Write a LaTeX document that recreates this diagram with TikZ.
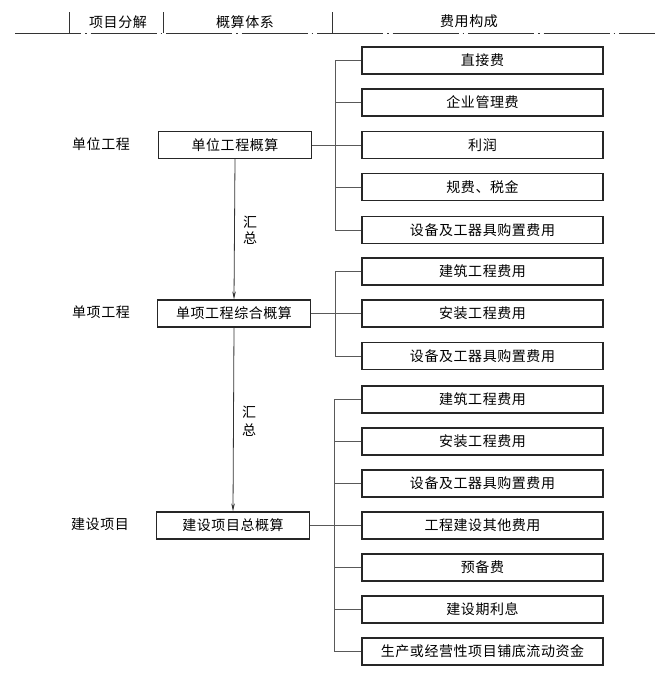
\documentclass[tikz,border=0pt]{standalone}
\usepackage{fontspec}
\newfontfamily\cjk[LetterSpace=4]{Noto Sans CJK SC}
\usetikzlibrary{arrows.meta}
\begin{document}
\begin{tikzpicture}[x=1pt,y=-1pt,
  txt/.style={font=\cjk\fontsize{14}{17}\selectfont, text=black, inner sep=0pt},
  costbox/.style={txt, draw=black!85, line width=1.1pt, minimum width=241pt, minimum height=27pt},
  sumbox/.style={txt, draw=black!85, line width=1.2pt, minimum width=153pt, minimum height=27pt},
  brk/.style={draw=black!65, line width=0.7pt},
  arr/.style={draw=black!80, line width=0.8pt, -{Stealth[length=8pt,width=3.5pt]}},
  hdr/.style={draw=black!80, line width=0.8pt}
]
\useasboundingbox (0,0) rectangle (655,683);
% header
\coordinate (hl) at (15,33);
\coordinate (hr) at (655,33);
\coordinate (v1t) at (69,12);  \coordinate (v1b) at (69,33);
\coordinate (v2t) at (163,12); \coordinate (v2b) at (163,33);
\coordinate (v3t) at (332,12); \coordinate (v3b) at (332,33);
\draw[hdr, dash pattern=on 66pt off 4pt on 1.5pt off 4pt] (hl) -- (hr);
\draw[hdr] (v1t) -- (v1b);
\draw[hdr] (v2t) -- (v2b);
\draw[hdr] (v3t) -- (v3b);
\node[txt] (h1) at (118,22) {项目分解};
\node[txt] (h2) at (245,22) {概算体系};
\node[txt] (h3) at (469,21) {费用构成};
% left labels
\node[txt] (l1) at (101,144) {单位工程};
\node[txt] (l2) at (101,312) {单项工程};
\node[txt] (l3) at (100,524) {建设项目};
% summary boxes
\node[sumbox] (s1) at (235,145) {单位工程概算};
\node[sumbox] (s2) at (234,313.5) {单项工程综合概算};
\node[sumbox] (s3) at (233,525.5) {建设项目总概算};
% group 1
\node[costbox] (a1) at (482.5,60.5) {直接费};
\node[costbox] (a2) at (482.5,102.5) {企业管理费};
\node[costbox] (a3) at (482.5,145) {利润};
\node[costbox] (a4) at (482.5,187) {规费、税金};
\node[costbox] (a5) at (482.5,230) {设备及工器具购置费用};
% group 2
\node[costbox] (b1) at (482.5,271.5) {建筑工程费用};
\node[costbox] (b2) at (482.5,313.5) {安装工程费用};
\node[costbox] (b3) at (482.5,356) {设备及工器具购置费用};
% group 3
\node[costbox] (c1) at (482.5,399.5) {建筑工程费用};
\node[costbox] (c2) at (482.5,441.5) {安装工程费用};
\node[costbox] (c3) at (482.5,483.5) {设备及工器具购置费用};
\node[costbox] (c4) at (482.5,525.5) {工程建设其他费用};
\node[costbox] (c5) at (482.5,567.5) {预备费};
\node[costbox] (c6) at (482.5,609.5) {建设期利息};
\node[costbox] (c7) at (482.5,651.5) {生产或经营性项目铺底流动资金};
% brackets group 1
\draw[brk] (a1.west) -- ++(-26,0) |- (a5.west);
\draw[brk] (a2.west) -- ++(-26,0);
\draw[brk] (a4.west) -- ++(-26,0);
\draw[brk] (s1.east) -- (a3.west);
% brackets group 2
\draw[brk] (b1.west) -- ++(-26,0) |- (b3.west);
\draw[brk] (s2.east) -- (b2.west);
% brackets group 3
\draw[brk] (c1.west) -- ++(-27,0) |- (c7.west);
\draw[brk] (c2.west) -- ++(-27,0);
\draw[brk] (c3.west) -- ++(-27,0);
\draw[brk] (c5.west) -- ++(-27,0);
\draw[brk] (c6.west) -- ++(-27,0);
\draw[brk] (s3.east) -- (c4.west);
% arrows
\draw[arr] (s1.south) -- (s2.north);
\draw[arr] (s2.south) -- (s3.north);
\node[txt, align=center, font=\cjk\fontsize{14}{16}\selectfont] (t1) at (250,230) {汇\\总};
\node[txt, align=center, font=\cjk\fontsize{14}{18}\selectfont] (t2) at (249,421) {汇\\总};
\end{tikzpicture}
\end{document}
